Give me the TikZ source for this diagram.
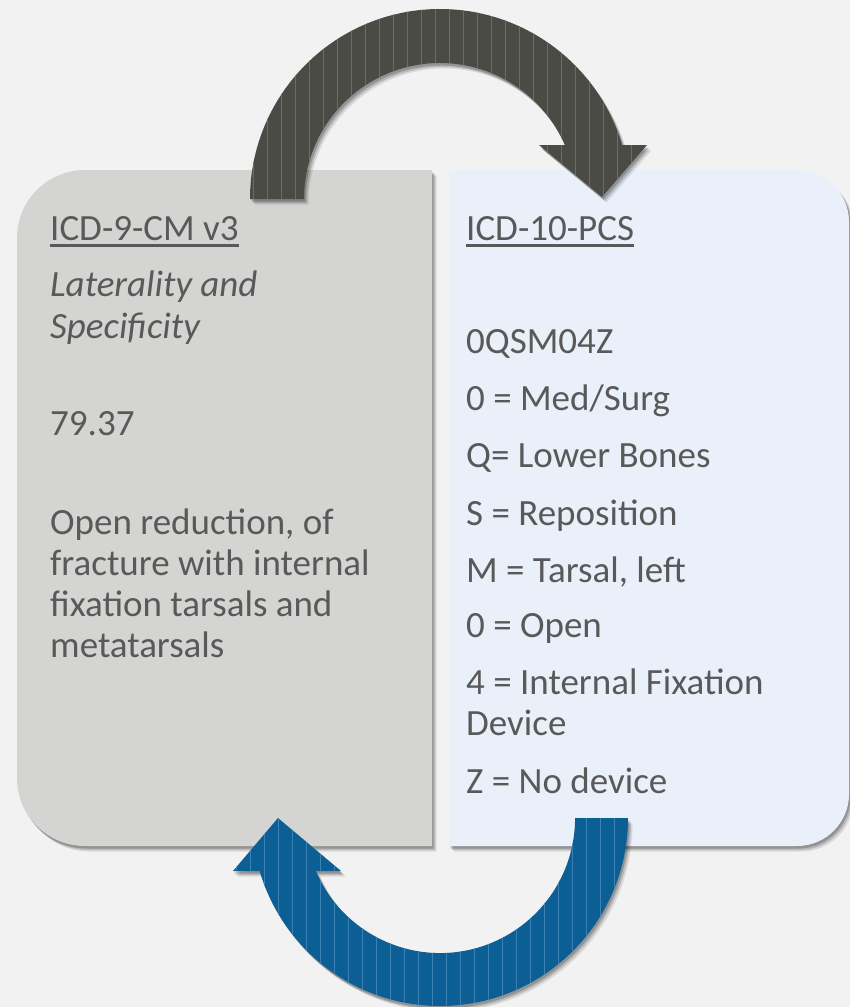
\documentclass[tikz,border=0pt]{standalone}
\usepackage{fontspec}
\setmainfont{Carlito}
\usepackage{tikz}
\usetikzlibrary{calc,shadows}

\definecolor{slidebg}{HTML}{F2F2F2}
\definecolor{oldpanel}{HTML}{D4D4D2}
\definecolor{newpanel}{HTML}{E9F0FA}
\definecolor{txtgray}{HTML}{595959}
\definecolor{darkarrow}{HTML}{4A4B45}
\definecolor{darkstripe}{HTML}{6B6C65}
\definecolor{bluearrow}{HTML}{0B5F95}
\definecolor{bluestripe}{HTML}{3D80B3}

\newcommand{\headul}[1]{\setbox0\hbox{#1}\rlap{\rule[-6.6pt]{\wd0}{2.2pt}}\box0}

\tikzset{
  panelshadow/.style={
    drop shadow={shadow xshift=4.5pt,shadow yshift=-5.5pt,opacity=0.10,fill=black},
    drop shadow={shadow xshift=3pt,shadow yshift=-4pt,opacity=0.15,fill=black},
    drop shadow={shadow xshift=1.5pt,shadow yshift=-2.5pt,opacity=0.20,fill=black}},
  txt/.style={anchor=base west,inner sep=0pt,text=txtgray,font=\fontsize{37}{42}\selectfont},
  striped/.style={path picture={
      \foreach \sx in {3,17,...,430}
        \draw[#1,line width=1pt] ([xshift=\sx pt]path picture bounding box.south west)
          -- ([xshift=\sx pt]path picture bounding box.north west);}},
}

\begin{document}
\begin{tikzpicture}[x=1pt,y=1pt]
  \useasboundingbox (0,0) rectangle (850,-1007);
  \fill[slidebg] (0,0) rectangle (850,-1007);

  %% The two panels
  \fill[oldpanel,panelshadow] (432,-170) -- (85,-170)
    arc[start angle=90,end angle=180,radius=68] -- (17,-778)
    arc[start angle=180,end angle=270,radius=68] -- (432,-846) -- cycle;
  \fill[newpanel,panelshadow] (449,-170) -- (797,-170)
    arc[start angle=90,end angle=0,radius=52] -- (849,-794)
    arc[start angle=0,end angle=-90,radius=52] -- (449,-846) -- cycle;

  %% Left panel text
  \node[txt] (oldhead) at (50,-240) {\headul{ICD-9-CM v3}};
  \foreach \ty/\tline [count=\i] in {296/{Laterality and},338/{Specificity}}
    \node[txt,font=\fontsize{37}{42}\selectfont\itshape] (oldsub\i) at (50,-\ty) {\tline};
  \node[txt] (oldcode) at (50,-435) {79.37};
  \foreach \ty/\tline [count=\i] in {534/{Open reduction, of},575/{fracture with internal},
      616/{fixation tarsals and},657/{metatarsals}}
    \node[txt] (olddesc\i) at (50,-\ty) {\tline};

  %% Right panel text
  \node[txt] (newhead) at (466,-240) {\headul{ICD-10-PCS}};
  \foreach \ty/\tline [count=\i] in {353/{0QSM04Z},410/{0 = Med/Surg},467/{Q= Lower Bones},
      525/{S = Reposition},582/{M = Tarsal, left},637/{0 = Open},
      694/{4 = Internal Fixation},735/{Device},793/{Z = No device}}
    \node[txt] (newline\i) at (466,-\ty) {\tline};

  %% Arrow from old to new (top)
  \fill[darkarrow,panelshadow,striped=darkstripe]
    (250,-199) arc[start angle=180,end angle=16.5,radius=190]
    -- (647,-145) -- (602,-197) -- (539,-145) -- (564.8,-145)
    arc[start angle=23.4,end angle=180,radius=136] -- cycle;

  %% Arrow from new to old (bottom)
  \fill[bluearrow,panelshadow,striped=bluestripe]
    (628,-818) arc[start angle=0,end angle=-163.6,radius=188]
    -- (233,-871) -- (278,-818) -- (341,-871) -- (315.9,-871)
    arc[start angle=-156.9,end angle=0,radius=135] -- cycle;
\end{tikzpicture}
\end{document}
